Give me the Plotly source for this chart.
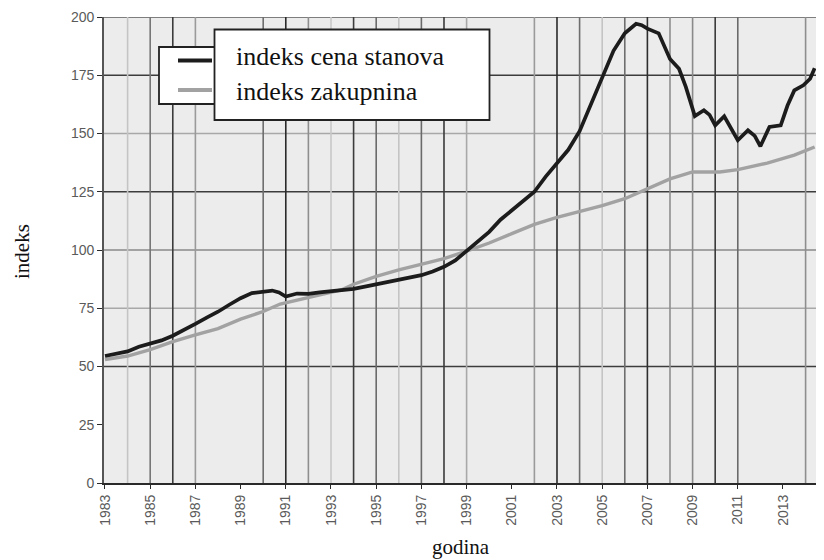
import plotly.graph_objects as go

# ---------------- data ----------------
price_years = [1983.0, 1983.5, 1984.0, 1984.5, 1985.0, 1985.5, 1986.0, 1986.5, 1987.0, 1987.5,
               1988.0, 1988.5, 1989.0, 1989.5, 1990.0, 1990.4, 1990.7, 1991.0, 1991.5, 1992.0,
               1992.5, 1993.0, 1993.5, 1994.0, 1994.5, 1995.0, 1995.5, 1996.0, 1996.5, 1997.0,
               1997.5, 1998.0, 1998.5, 1999.0, 1999.5, 2000.0, 2000.5, 2001.0, 2001.5, 2002.0,
               2002.5, 2003.0, 2003.5, 2004.0, 2004.5, 2005.0, 2005.5, 2006.0, 2006.5, 2006.75,
               2007.0, 2007.5, 2008.0, 2008.4, 2008.7, 2009.1, 2009.5, 2009.75, 2010.0, 2010.4,
               2010.7, 2011.0, 2011.45, 2011.75, 2012.0, 2012.4, 2012.9, 2013.2, 2013.5, 2013.9,
               2014.2, 2014.4]
price_index = [54.5, 55.5, 56.5, 58.5, 59.7, 61.2, 63.2, 65.6, 68.3, 71.0,
               73.5, 76.5, 79.3, 81.5, 82.0, 82.6, 81.8, 80.0, 81.3, 81.2,
               81.8, 82.3, 82.8, 83.3, 84.3, 85.3, 86.0, 87.3, 88.3, 89.2,
               90.8, 92.8, 95.5, 99.5, 104.0, 107.8, 113.0, 117.0, 120.5, 125.0,
               131.5, 137.0, 143.0, 151.0, 162.5, 174.0, 185.5, 193.0, 197.1, 196.5,
               195.0, 193.0, 182.0, 177.8, 170.0, 157.5, 160.0, 158.0, 153.5, 157.4,
               152.5, 147.1, 151.4, 149.0, 144.5, 152.8, 153.5, 162.0, 168.5, 170.7,
               173.5, 178.0]

rent_years = [1983.0, 1984.0, 1985.0, 1986.0, 1987.0, 1988.0, 1989.0, 1990.0, 1990.75, 1991.5,
              1992.5, 1993.5, 1994.0, 1995.0, 1996.0, 1997.0, 1998.0, 1999.0, 2000.0, 2001.0,
              2002.0, 2003.0, 2004.0, 2005.0, 2006.0, 2007.0, 2008.0, 2009.0, 2010.2, 2011.0,
              2012.3, 2013.5, 2014.4]
rent_index = [53.0, 54.5, 57.2, 60.7, 63.6, 66.3, 70.3, 73.6, 76.8, 78.5,
              80.5, 83.0, 85.3, 88.7, 91.5, 94.0, 96.3, 99.5, 103.0, 107.0,
              111.0, 114.0, 116.5, 119.0, 122.0, 126.4, 130.5, 133.5, 133.5, 134.5,
              137.3, 140.7, 144.2]

series_names = ["indeks cena stanova", "indeks zakupnina"]
x_tick_years = [1983, 1985, 1987, 1989, 1991, 1993, 1995, 1997, 1999,
                2001, 2003, 2005, 2007, 2009, 2011, 2013]
y_ticks = [0, 25, 50, 75, 100, 125, 150, 175, 200]
x_title = "godina"
y_title = "indeks"

# ---------------- figure ----------------
OFF = 8  # default page margin of the html body
W, H = 824 - OFF, 560 - OFF
L, R, T, B = 104 - OFF, 0, 17 - OFF, 77
PW, PH = W - L - R, H - T - B

def px_x(p):
    return (p - OFF - L) / PW

def px_y(p):
    return (H - B - (p - OFF)) / PH

fig = go.Figure()
fig.add_trace(go.Scatter(x=rent_years, y=rent_index, mode="lines", name=series_names[1],
                         line=dict(color="#a2a2a2", width=3.4), showlegend=False))
fig.add_trace(go.Scatter(x=price_years, y=price_index, mode="lines", name=series_names[0],
                         line=dict(color="#1c1c1c", width=3.7), showlegend=False))

shapes = []
# vertical grid lines (irregular shades as in the scanned original)
vgrid = [(1984, "#c4c4c4"), (1985, "#767676"), (1986, "#3c3c3c"), (1987, "#9a9a9a"),
         (1990, "#6e6e6e"), (1991, "#2a2a2a"), (1992, "#8e8e8e"), (1993, "#c8c8c8"),
         (1994, "#3c3c3c"), (1995, "#6a6a6a"), (1996, "#c4c4c4"), (1997, "#6a6a6a"),
         (1998, "#3a3a3a"), (1999, "#a8a8a8"), (2002, "#9a9a9a"), (2003, "#2a2a2a"),
         (2004, "#6e6e6e"), (2005, "#c4c4c4"), (2006, "#6e6e6e"), (2007, "#2e2e2e"),
         (2008, "#8e8e8e"), (2009, "#8a8a8a"), (2010, "#3a3a3a"), (2011, "#6a6a6a"),
         (2014, "#8e8e8e")]
for yr, c in vgrid:
    shapes.append(dict(type="line", xref="x", yref="y", x0=yr, x1=yr, y0=0, y1=200,
                       line=dict(color=c, width=1.6), layer="below"))
hgrid = [(50, "#3c3c3c"), (75, "#a8a8a8"), (100, "#8a8a8a"), (125, "#3c3c3c"),
         (150, "#a8a8a8"), (175, "#3c3c3c"), (200, "#5a5a5a")]
for v, c in hgrid:
    shapes.append(dict(type="line", xref="paper", yref="y", x0=0, x1=1, y0=v, y1=v,
                       line=dict(color=c, width=1.6), layer="below"))

# legend boxes
shapes.append(dict(type="rect", xref="paper", yref="paper",
                   x0=px_x(159), x1=px_x(216), y0=px_y(104), y1=px_y(47),
                   fillcolor="white", line=dict(color="#222222", width=1.8)))
shapes.append(dict(type="line", xref="paper", yref="paper",
                   x0=px_x(178), x1=px_x(212), y0=px_y(60.5), y1=px_y(60.5),
                   line=dict(color="#1c1c1c", width=4)))
shapes.append(dict(type="line", xref="paper", yref="paper",
                   x0=px_x(178), x1=px_x(212), y0=px_y(90), y1=px_y(90),
                   line=dict(color="#a2a2a2", width=4)))
shapes.append(dict(type="rect", xref="paper", yref="paper",
                   x0=px_x(214.5), x1=px_x(489.5), y0=px_y(120), y1=px_y(29.5),
                   fillcolor="white", line=dict(color="#222222", width=1.8)))

serif = "Liberation Serif, Times New Roman, serif"
annotations = [
    dict(text=series_names[0], xref="paper", yref="paper", x=px_x(234), y=px_y(56),
         xanchor="left", yanchor="middle", showarrow=False,
         font=dict(family=serif, size=26, color="#111111")),
    dict(text=series_names[1], xref="paper", yref="paper", x=px_x(234), y=px_y(91),
         xanchor="left", yanchor="middle", showarrow=False,
         font=dict(family=serif, size=26, color="#111111")),
    dict(text=x_title, xref="paper", yref="paper", x=px_x(461), y=px_y(547),
         xanchor="center", yanchor="middle", showarrow=False,
         font=dict(family=serif, size=21, color="#111111")),
    dict(text=y_title, xref="paper", yref="paper", x=px_x(22), y=px_y(252),
         xanchor="center", yanchor="middle", showarrow=False, textangle=-90,
         font=dict(family=serif, size=21, color="#111111")),
]

fig.update_layout(
    width=W, height=H,
    margin=dict(l=L, r=R, t=T, b=B, pad=0),
    paper_bgcolor="white", plot_bgcolor="#ececec",
    shapes=shapes, annotations=annotations, showlegend=False,
)
fig.update_xaxes(range=[1982.956, 1982.956 + PW / 22.6], tickvals=x_tick_years,
                 ticktext=[str(v) for v in x_tick_years], tickangle=-90,
                 showgrid=False, zeroline=False, showline=True, linecolor="#2a2a2a",
                 linewidth=2, ticks="outside", ticklen=4, tickcolor="#2a2a2a",
                 tickfont=dict(family="Liberation Sans, Arial, sans-serif", size=14, color="#5a5a5a"))
fig.update_yaxes(range=[0, 200], tickvals=y_ticks, showgrid=False, zeroline=False,
                 showline=True, linecolor="#555555", linewidth=1.6, ticks="outside",
                 ticklen=5, tickcolor="#2a2a2a",
                 tickfont=dict(family="Liberation Sans, Arial, sans-serif", size=14, color="#5a5a5a"))

fig.write_html("out.html")
